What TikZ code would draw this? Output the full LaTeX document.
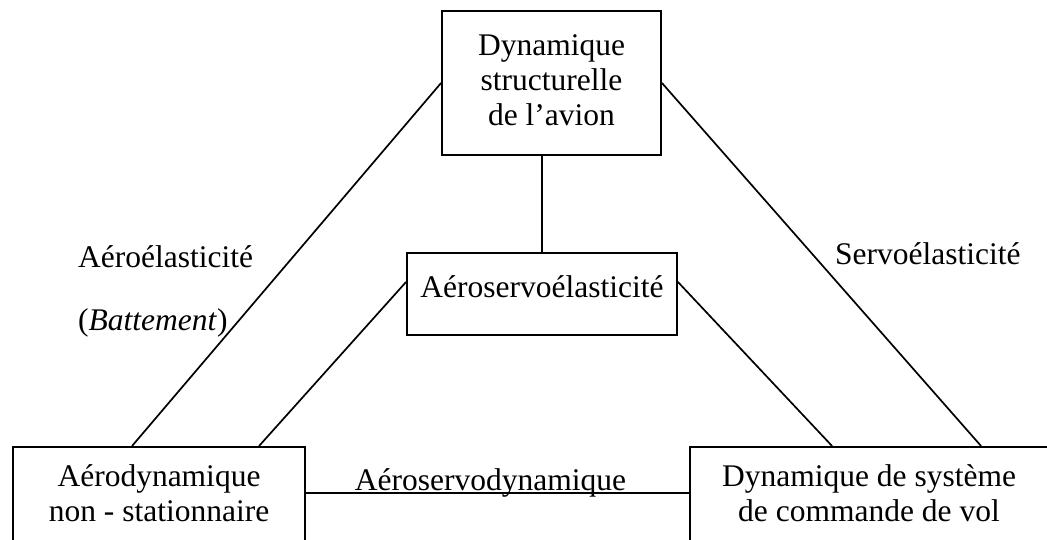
\documentclass[tikz,border=0pt]{standalone}
\usepackage{fontspec}
\setmainfont{Liberation Serif}
\usetikzlibrary{calc}
\begin{document}
\begin{tikzpicture}[x=1pt,y=-1pt,
  every node/.style={font=\fontsize{31.5}{35}\selectfont},
  box/.style={draw, line width=1.9pt, rectangle, inner sep=0pt, align=center},
  link/.style={line width=1.7pt},
  tag/.style={inner sep=0pt, anchor=base west}]
\useasboundingbox (0,0) rectangle (1047,540);
\clip (0,0) rectangle (1047,540);

% the four domains
\node[box, minimum width=219pt, minimum height=144pt] (dyn) at (551.5,83)
  {Dynamique\\structurelle\\de l’avion\vphantom{p}};
\node[box, minimum width=270pt, minimum height=82pt,
      text height=21.5pt, text depth=15.5pt] (mid) at (542,294)
  {Aéroservoélasticité};
\node[box, minimum width=292pt, minimum height=120pt, anchor=north] (ad) at (159,446)
  {Aérodynamique\\non - stationnaire\rule[-28.5pt]{0pt}{28.5pt}};
\node[box, minimum width=358pt, minimum height=120pt, anchor=north] (dsc) at (869,446)
  {Dynamique de système\\de commande de vol\rule[-28.5pt]{0pt}{28.5pt}};

% coupling labels
\node[tag] (ae) at (78,268) {Aéroélasticité};
\node[tag] (bat) at (78,330) {(\textit{Battement})};
\node[tag] (se) at (835,265) {Servoélasticité};
\node[inner sep=0pt, anchor=base] (asd) at (490.5,490) {Aéroservodynamique};

% connectors
\draw[link] (dyn.west) -- ($(ad.north west)+(120,0)$);
\draw[link] (dyn.east) -- ($(dsc.north west)+(292,0)$);
\draw[link] ($(mid.west)+(0,-12)$) -- ($(ad.north west)+(247,0)$);
\draw[link] ($(mid.east)+(0,-12)$) -- ($(dsc.north west)+(143,0)$);
\draw[link] (mid.north) -- (mid.north |- dyn.south);
\draw[link] ($(ad.north east)+(0,47)$) coordinate (hl) -- (hl -| dsc.west);
\end{tikzpicture}
\end{document}
